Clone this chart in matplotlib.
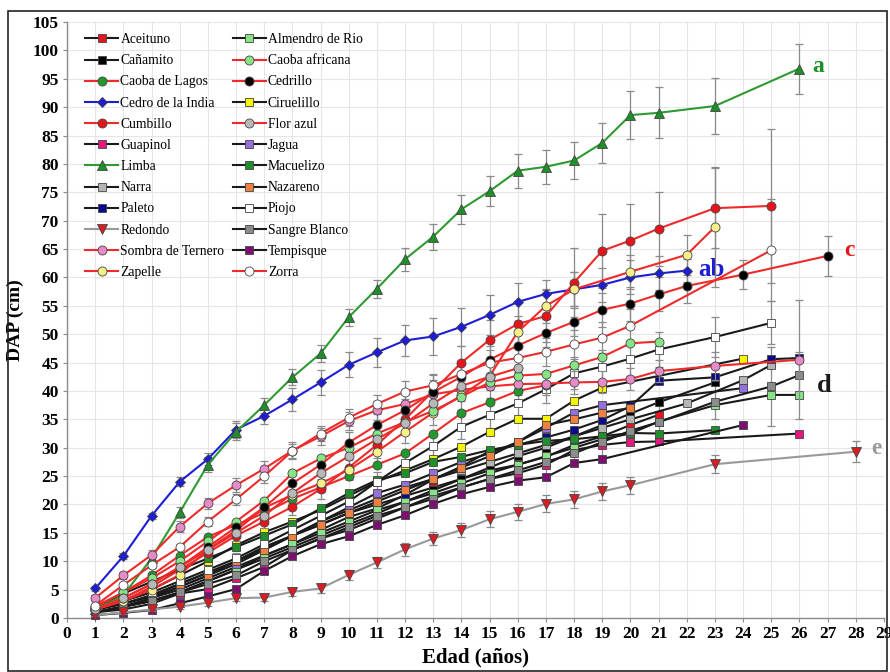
import matplotlib
matplotlib.use('Agg')
import matplotlib.pyplot as plt
from matplotlib.lines import Line2D
from matplotlib.patches import Rectangle

# ---------------- data ----------------
aceituno_x = list(range(1, 22))
aceituno_y = [1.5, 2.5, 4, 6, 8, 10, 12.5, 14.5, 16.5, 18.5, 20, 21.5, 23, 24.5, 26, 27, 28.4, 30.5, 32, 34, 35.8]

almendro_x = list(range(1, 22)) + [23, 25, 26]
almendro_y = [1, 2, 3.5, 5, 7, 9, 11, 13, 15, 17, 19, 20.5, 22, 23.7, 25.5, 27, 28.5, 30, 31.5, 32.5, 34.6, 37.5, 39.3, 39.3]

canamito_x = list(range(1, 22)) + [23]
canamito_y = [1, 2, 3, 4.5, 6.5, 8.5, 10.5, 12.5, 14.5, 16.5, 18.4, 20.5, 22.5, 24.5, 26.5, 28.5, 30, 32, 34, 36, 38, 41.5]

caoba_afr_x = list(range(1, 22))
caoba_afr_y = [2, 4.5, 7, 10, 13.5, 17, 20.7, 25.5, 28.1, 30, 32.5, 34.5, 36.5, 39, 41.5, 42.7, 43.0, 44.5, 46.0, 48.4, 48.7]

caoba_lagos_x = list(range(1, 18))
caoba_lagos_y = [2, 4.5, 7.5, 11, 14.3, 16.4, 18.5, 21, 23, 25, 27, 29.0, 32.5, 36.1, 38.0, 40, 41]

cedrillo_x = list(range(1, 23)) + [24, 27]
cedrillo_y = [1.5, 3.5, 6, 9, 12.5, 16, 19.5, 23.7, 27.0, 30.9, 34.0, 36.6, 39.8, 42.5, 45.5, 48.0, 50.2, 52.2, 54.3, 55.4, 57.0, 58.5, 60.5, 63.8]
cedrillo_err = [0.3, 0.4, 0.5, 0.6, 0.8, 1, 1.2, 1.5, 1.5, 1.8, 2, 2, 2.2, 2.5, 2.5, 2.5, 2.5, 2.5, 3, 3, 3, 3, 2.5, 3.5]

cedro_x = list(range(1, 23))
cedro_y = [5.2, 10.9, 18.0, 24.0, 28.0, 33.2, 35.6, 38.5, 41.5, 44.6, 46.8, 48.9, 49.6, 51.3, 53.4, 55.7, 57.1, 57.9, 58.7, 60.0, 60.7, 61.2]
cedro_err = [0.4, 0.5, 0.5, 0.8, 1.0, 1.5, 1.5, 2.0, 2.2, 2.2, 2.5, 2.8, 3.3, 3.4, 3.5, 3.3, 2.5, 3.0, 3.0, 3.0, 3.0, 2.0]

ciruelillo_x = list(range(1, 20)) + [24]
ciruelillo_y = [1.5, 3, 5, 7.5, 10, 12.8, 15.1, 17, 19, 21.5, 24, 26, 28, 30.2, 32.8, 35.1, 35.1, 38.3, 40.6, 45.7]

cumbillo_x = list(range(1, 22)) + [23, 25]
cumbillo_y = [1.5, 3, 5.5, 8.5, 11.5, 14.5, 17.0, 19.6, 22.7, 26.5, 30.5, 35, 40, 45, 49, 51.8, 53.2, 59.1, 64.7, 66.5, 68.6, 72.2, 72.6]
cumbillo_err = [0.3, 0.4, 0.5, 0.6, 0.8, 1, 1.2, 1.5, 1.8, 2, 2.3, 2.5, 2.8, 3, 3.5, 4, 4.5, 6, 6.5, 6.5, 6.5, 7, 13.5]

flor_azul_x = list(range(1, 17))
flor_azul_y = [1.5, 3.5, 6, 9, 12, 15, 18, 22, 25.5, 28.5, 31.5, 34.3, 37.8, 40.9, 42.5, 44.0]

guapinol_x = list(range(1, 22)) + [26]
guapinol_y = [1, 1.5, 2.5, 4.3, 5.1, 7, 9, 12, 14, 15.5, 17.5, 19.5, 21.5, 23, 24.5, 25.5, 27, 29.6, 30.5, 31, 31.1, 32.5]

jagua_x = list(range(1, 20)) + [24]
jagua_y = [1.5, 2.5, 3.8, 5.5, 7.5, 9.5, 12, 14.5, 17, 19.5, 22, 23.5, 25.5, 27.5, 29, 31, 33.5, 36.2, 37.5, 40.5]

limba_x = list(range(1, 22)) + [23, 26]
limba_y = [1.5, 4, 10.5, 18.6, 27.0, 32.8, 37.5, 42.4, 46.6, 53.0, 58.0, 63.2, 67.2, 72.0, 75.2, 78.8, 79.5, 80.6, 83.7, 88.6, 89.0, 90.2, 96.8]
limba_err = [0.3, 0.5, 0.8, 1.0, 1.3, 1.5, 1.3, 1.4, 1.5, 1.5, 1.6, 2.0, 2.3, 2.5, 2.6, 3.0, 3.0, 3.2, 3.5, 4.3, 4.5, 5.0, 4.4]

macuelizo_x = list(range(1, 22)) + [23]
macuelizo_y = [1.5, 4.3, 6.4, 8.5, 10.5, 12.5, 14.5, 16.5, 19.3, 22, 24.3, 25.5, 27.5, 28.4, 29.6, 30.5, 31.2, 31.5, 32, 32.6, 32.5, 33.1]

narra_x = list(range(1, 21)) + [22, 24, 25]
narra_y = [1.5, 2.5, 4, 6, 8, 10, 12.5, 14.5, 17, 19, 21, 23, 24.5, 26, 27.5, 29, 30.5, 32, 33.5, 35, 37.8, 41.9, 44.6]

nazareno_x = list(range(1, 21))
nazareno_y = [1, 2, 3.5, 5.5, 7.5, 10, 12, 14.5, 16.4, 18.5, 20.5, 22.5, 24.5, 26.5, 28.5, 31, 34.0, 35, 36.2, 37]

paleto_x = list(range(1, 22)) + [23, 25, 26]
paleto_y = [1, 2, 3, 4.5, 6.5, 8.5, 11, 13, 15.5, 17.8, 19.3, 21.7, 24.4, 26.7, 29.4, 30.5, 31.8, 33.2, 34.9, 37.3, 41.8, 42.4, 45.6, 45.8]

piojo_x = list(range(1, 22)) + [23, 25]
piojo_y = [1.5, 3, 4.5, 6.5, 8.5, 10.5, 13, 15.5, 18, 20.5, 24, 27.3, 30.3, 33.7, 35.8, 37.8, 40.3, 43.1, 44.3, 45.7, 47.3, 49.5, 52.0]
piojo_err = [0.3, 0.4, 0.5, 0.6, 0.8, 1, 1.2, 1.3, 1.5, 1.6, 1.8, 2, 2, 2.2, 2.3, 2.5, 2.5, 2.8, 3, 3, 3, 3.5, 3.8]

redondo_x = list(range(1, 21)) + [23, 28]
redondo_y = [0.5, 1, 1.5, 2, 2.7, 3.5, 3.6, 4.6, 5.2, 7.6, 9.8, 12.1, 14.0, 15.5, 17.4, 18.7, 20.1, 20.9, 22.3, 23.4, 27.1, 29.3]
redondo_err = [0.2, 0.3, 0.3, 0.4, 0.5, 0.5, 0.6, 0.7, 0.8, 0.9, 1.0, 1.1, 1.2, 1.3, 1.4, 1.4, 1.5, 1.5, 1.5, 1.5, 1.6, 1.8]

sangre_x = list(range(1, 22)) + [23, 25, 26]
sangre_y = [1, 2, 3, 4.5, 6, 7.5, 10, 12, 14, 16, 18, 19.5, 21, 23, 24.5, 26, 27.5, 29, 31, 33, 34.5, 38.1, 40.8, 42.8]
sangre_err = [0.2, 0.3, 0.4, 0.5, 0.6, 0.8, 1, 1.1, 1.2, 1.4, 1.5, 1.6, 1.7, 1.8, 2, 2, 2.2, 2.3, 2.5, 2.5, 2.8, 3, 7, 4]

sombra_x = list(range(1, 22)) + [23, 26]
sombra_y = [3.5, 7.5, 11.1, 16.1, 20.2, 23.4, 26.3, 29.5, 32, 34.7, 36.6, 37.7, 39.4, 40.2, 40.8, 41.2, 41.3, 41.5, 41.6, 42.1, 43.5, 44.4, 45.5]
sombra_err = [0.5, 0.6, 0.8, 1, 1, 1.2, 1.3, 1.5, 1.5, 1.6, 1.7, 1.8, 2, 2, 2, 2, 2, 2, 2, 2, 2, 2.5, 10.5]

tempisque_x = list(range(1, 20)) + [24]
tempisque_y = [0.5, 0.9, 1.4, 2.6, 3.8, 5.1, 8.3, 10.9, 13.0, 14.4, 16.4, 18.1, 20.1, 21.8, 23.1, 24.2, 24.8, 27.3, 28.0, 34.0]

zapelle_x = list(range(1, 19)) + [20, 22, 23]
zapelle_y = [1.5, 3, 5, 7.6, 12.1, 15.4, 19.4, 21.7, 23.7, 26.1, 29.3, 32.8, 36.2, 39.2, 42.6, 50.4, 55.0, 57.9, 61.0, 64.0, 68.9]
zapelle_err = [0.3, 0.4, 0.5, 0.6, 0.8, 1, 1.2, 1.5, 1.5, 1.8, 2, 2, 2.2, 2.5, 2.5, 2.8, 3, 3, 3, 3.5, 10.5]

zorra_x = list(range(1, 21)) + [25]
zorra_y = [2.2, 5.8, 9.3, 12.5, 17.0, 20.9, 25.0, 29.4, 32.5, 35.3, 37.7, 39.9, 41.0, 43.0, 45.0, 45.8, 46.9, 48.2, 49.4, 51.5, 64.8]
zorra_err = [0.3, 0.4, 0.5, 0.6, 0.8, 1, 1.2, 1.3, 1.4, 1.5, 1.6, 1.8, 2, 2.2, 2.3, 2.5, 2.5, 2.5, 2.8, 3, 9]

x_ticks = list(range(0, 30))
y_ticks = list(range(0, 106, 5))

# ---------------- styles ----------------
RED = '#ee2a2a'
BLK = '#1a1a1a'

# name, x, y, err, line color, marker, face color, size
series = [
    ('Aceituno', aceituno_x, aceituno_y, None, BLK, 's', '#e8141c', 6),
    ('Cañamito', canamito_x, canamito_y, None, BLK, 's', '#000000', 6),
    ('Caoba de Lagos', caoba_lagos_x, caoba_lagos_y, None, RED, 'o', '#1e9a2a', 6.5),
    ('Cedro de la India', cedro_x, cedro_y, cedro_err, '#1d1dd6', 'D', '#1d1dd6', 5),
    ('Cumbillo', cumbillo_x, cumbillo_y, cumbillo_err, RED, 'o', '#e8141c', 6.5),
    ('Guapinol', guapinol_x, guapinol_y, None, BLK, 's', '#e8167f', 6),
    ('Limba', limba_x, limba_y, limba_err, '#2f9a32', '^', '#1f8f2a', 6.5),
    ('Narra', narra_x, narra_y, None, BLK, 's', '#b4b4b4', 6),
    ('Paleto', paleto_x, paleto_y, None, BLK, 's', '#0a0a8c', 6),
    ('Redondo', redondo_x, redondo_y, redondo_err, '#999999', 'v', '#d81c24', 6.5),
    ('Sombra de Ternero', sombra_x, sombra_y, sombra_err, RED, 'o', '#e88ac8', 6.5),
    ('Zapelle', zapelle_x, zapelle_y, zapelle_err, RED, 'o', '#f7f08a', 6.5),
    ('Almendro de Rio', almendro_x, almendro_y, None, BLK, 's', '#86e486', 6),
    ('Caoba africana', caoba_afr_x, caoba_afr_y, None, RED, 'o', '#86e486', 6.5),
    ('Cedrillo', cedrillo_x, cedrillo_y, cedrillo_err, RED, 'o', '#000000', 6.5),
    ('Ciruelillo', ciruelillo_x, ciruelillo_y, None, BLK, 's', '#f5f500', 6),
    ('Flor azul', flor_azul_x, flor_azul_y, None, RED, 'o', '#b8b8b8', 6.5),
    ('Jagua', jagua_x, jagua_y, None, BLK, 's', '#9370db', 6),
    ('Macuelizo', macuelizo_x, macuelizo_y, None, BLK, 's', '#1e8f2a', 6),
    ('Nazareno', nazareno_x, nazareno_y, None, BLK, 's', '#f08040', 6),
    ('Piojo', piojo_x, piojo_y, piojo_err, BLK, 's', '#ffffff', 6),
    ('Sangre Blanco', sangre_x, sangre_y, sangre_err, BLK, 's', '#8c8c8c', 6),
    ('Tempisque', tempisque_x, tempisque_y, None, BLK, 's', '#7b1070', 6),
    ('Zorra', zorra_x, zorra_y, zorra_err, RED, 'o', '#ffffff', 6.5),
]

plt.rcParams['font.family'] = ['Liberation Serif', 'DejaVu Serif']

fig = plt.figure(figsize=(8.9, 6.72), dpi=100)
W, H = 890.0, 672.0
ax = fig.add_axes([67 / W, 1 - 618 / H, (884 - 67) / W, (618 - 22) / H])

# black-line series first, red/colored ones on top
order_black = [s for s in series if s[4] == BLK]
order_other = [s for s in series if s[4] != BLK]
for z, grp in ((3, order_black), (4, order_other)):
    for name, xs, ys, err, lc, mk, fc, ms in grp:
        if err is not None:
            ax.errorbar(xs, ys, yerr=err, fmt='none', ecolor='#8a8a8a',
                        elinewidth=0.9, capsize=3, capthick=0.9, zorder=z - 0.5)
        ax.plot(xs, ys, color=lc, lw=1.5, marker=mk, markersize=ms,
                markerfacecolor=fc, markeredgecolor='#444444', markeredgewidth=0.6,
                zorder=z, clip_on=False)

ax.set_xlim(0, 29)
ax.set_ylim(0, 105)
ax.set_xticks(x_ticks)
ax.set_yticks(y_ticks)
ax.grid(True, color='#e6e6e6', lw=0.8, zorder=0)
ax.set_axisbelow(True)
for sp in ('top', 'right'):
    ax.spines[sp].set_visible(False)
for sp in ('left', 'bottom'):
    ax.spines[sp].set_color('#8a8a8a')
    ax.spines[sp].set_linewidth(1.0)
ax.tick_params(axis='both', length=3, color='#8a8a8a', labelsize=12.5, pad=3)
for lab in ax.get_xticklabels() + ax.get_yticklabels():
    lab.set_fontweight('bold')

ax.set_xlabel('Edad (años)', fontsize=15, fontweight='bold', labelpad=4)
ax.set_ylabel('DAP (cm)', fontsize=14, fontweight='bold', labelpad=6)

# letters of significance
ax.text(26.45, 97.2, 'a', color='#1f8f2a', fontsize=17, fontweight='bold', va='center')
ax.text(22.4, 61.4, 'ab', color='#1d1dd6', fontsize=18, fontweight='bold', va='center')
ax.text(27.6, 64.8, 'c', color='#e8141c', fontsize=17, fontweight='bold', va='center')
ax.text(26.6, 41.0, 'd', color='#1a1a1a', fontsize=19, fontweight='bold', va='center')
ax.text(28.55, 29.8, 'e', color='#9a9a9a', fontsize=17, fontweight='bold', va='center')

# legend (two columns)
handles = []
labels = []
for name, xs, ys, err, lc, mk, fc, ms in series:
    handles.append(Line2D([], [], color=lc, lw=1.5, marker=mk, markersize=ms,
                          markerfacecolor=fc, markeredgecolor='#444444',
                          markeredgewidth=0.6))
    labels.append(name)
leg = ax.legend(handles, labels, ncol=2, loc='upper left',
                bbox_to_anchor=(0.012, 0.995), frameon=False, fontsize=9.8,
                handlelength=2.45, labelspacing=0.6, columnspacing=0.6,
                handletextpad=0.15, borderaxespad=0.2)
leg.set_zorder(10)

# outer frame
fig.add_artist(Rectangle((8 / W, 1 / H), (887 - 8) / W, (661 - 1) / H,
                         transform=fig.transFigure, fill=False,
                         edgecolor='#222222', lw=1.2))

fig.savefig('out.png', dpi=100)
